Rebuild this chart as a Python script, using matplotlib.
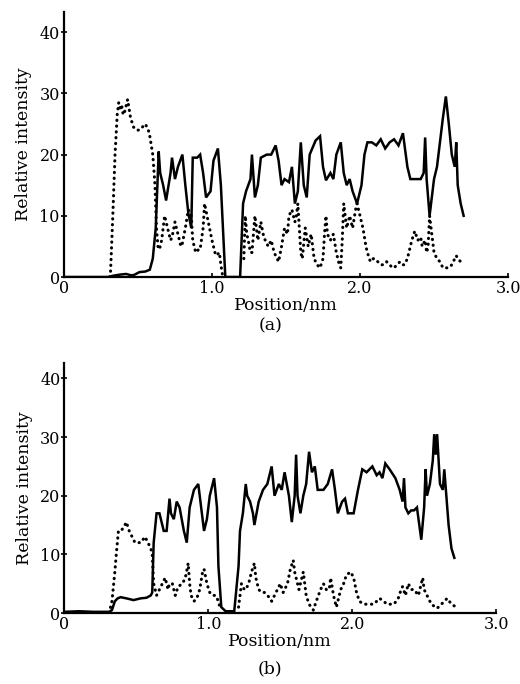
import numpy as np
import matplotlib
matplotlib.use("Agg")
import matplotlib.pyplot as plt

nan = np.nan

# Panel (a): solid curve (x nm, intensity)
a_solid = np.array([
    (0, 0), (0.30, 0), (0.33, 0.2), (0.38, 0.4), (0.42, 0.5), (0.45, 0.3), (0.47, 0.3),
    (0.51, 0.8), (0.55, 0.9), (0.58, 1.2), (0.60, 3), (0.62, 8), (0.64, 20.5), (0.65, 17),
    (0.67, 15), (0.69, 12.5), (0.72, 17), (0.73, 19.5), (0.75, 16), (0.77, 18), (0.80, 20),
    (0.82, 15), (0.84, 10.5), (0.86, 8), (0.87, 19.5), (0.90, 19.5), (0.92, 20), (0.94, 17),
    (0.96, 13), (0.99, 14), (1.01, 19), (1.04, 21), (1.06, 15), (1.08, 5), (1.09, 0),
    (1.19, 0), (1.20, 6), (1.21, 12), (1.23, 14), (1.26, 16), (1.27, 20), (1.29, 13),
    (1.31, 15), (1.33, 19.5), (1.37, 20), (1.40, 20), (1.43, 21.5), (1.45, 19), (1.47, 15),
    (1.49, 16), (1.52, 15.5), (1.54, 18), (1.56, 12), (1.58, 14), (1.60, 22), (1.62, 15),
    (1.64, 13), (1.66, 20), (1.70, 22.3), (1.73, 23), (1.75, 18), (1.77, 15.8), (1.80, 17),
    (1.82, 16), (1.84, 20), (1.87, 22), (1.89, 17), (1.91, 15), (1.93, 16), (1.95, 14),
    (1.98, 12), (2.01, 15), (2.03, 20), (2.05, 22), (2.08, 22), (2.11, 21.5), (2.14, 22.5),
    (2.17, 21), (2.20, 22), (2.23, 22.5), (2.26, 21.5), (2.29, 23.5), (2.32, 18), (2.34, 16),
    (2.37, 16), (2.41, 16), (2.43, 17), (2.44, 22.8), (2.45, 16), (2.47, 10), (2.50, 16),
    (2.52, 18), (2.54, 22), (2.56, 26), (2.58, 29.5), (2.60, 25), (2.62, 20), (2.64, 18),
    (2.65, 22), (2.66, 15), (2.68, 12), (2.70, 10),
])

# Panel (a): dotted curve
a_dotted = np.array([
    (0.31, 0), (0.315, 1), (0.33, 10), (0.345, 20), (0.36, 26.6), (0.37, 28.5), (0.38, 27.5),
    (0.39, 28), (0.40, 26.5), (0.41, 27), (0.43, 29), (0.45, 26), (0.47, 24.5), (0.49, 24),
    (0.51, 24), (0.53, 24.5), (0.55, 25), (0.57, 24), (0.58, 23), (0.60, 20), (0.615, 15),
    (0.625, 8), (0.635, 5), (0.645, 4.5), (0.66, 6), (0.68, 10), (0.70, 8), (0.72, 6),
    (0.73, 6.5), (0.75, 9), (0.77, 7), (0.79, 5), (0.80, 5.5), (0.82, 8), (0.84, 11),
    (0.86, 10), (0.87, 6), (0.89, 4), (0.91, 4.5), (0.92, 4.5), (0.94, 8), (0.95, 12),
    (0.975, 9), (1.00, 6), (1.02, 4), (1.03, 3.5), (1.05, 4), (1.06, 2), (1.07, 0.5),
    (nan, nan),
    (1.215, 3), (1.225, 10), (1.235, 7), (1.245, 6), (1.26, 4), (1.27, 4), (1.28, 7),
    (1.29, 10), (1.30, 8), (1.31, 6), (1.33, 9), (1.35, 6.5), (1.36, 6), (1.38, 5),
    (1.40, 6), (1.42, 4), (1.43, 3.5), (1.45, 2.5), (1.47, 5), (1.49, 8), (1.51, 7),
    (1.52, 10), (1.54, 11), (1.56, 9), (1.57, 10), (1.58, 12), (1.59, 8), (1.60, 4),
    (1.61, 3), (1.63, 8), (1.65, 5), (1.67, 7), (1.69, 3), (1.71, 2), (1.73, 1.5),
    (1.75, 3), (1.76, 7), (1.77, 10), (1.78, 7), (1.80, 6), (1.82, 7), (1.84, 4),
    (1.86, 2), (1.87, 1.5), (1.88, 6), (1.89, 12), (1.91, 8), (1.93, 10), (1.95, 8),
    (1.97, 11), (1.98, 12), (2.00, 10), (2.02, 8), (2.04, 5), (2.05, 4), (2.07, 2.5),
    (2.09, 3), (2.10, 3), (2.12, 2.5), (2.14, 2), (2.16, 2), (2.18, 2.5), (2.20, 2),
    (2.22, 1.5), (2.23, 1.5), (2.25, 2), (2.27, 2.5), (2.29, 2), (2.30, 2), (2.32, 3),
    (2.33, 4), (2.35, 6), (2.37, 7.5), (2.39, 6), (2.41, 6.5), (2.42, 5), (2.44, 6),
    (2.45, 4), (2.46, 5), (2.47, 10), (2.48, 8), (2.50, 4), (2.52, 3), (2.54, 2.5),
    (2.56, 1.5), (2.58, 1.5), (2.60, 1.5), (2.62, 2), (2.63, 2.5), (2.65, 3.5), (2.66, 3),
    (2.68, 2.5), (2.70, 2),
])

# Panel (b): solid curve
b_solid = np.array([
    (0, 0.2), (0.10, 0.3), (0.20, 0.2), (0.31, 0.2), (0.33, 0.5), (0.35, 2), (0.37, 2.5),
    (0.39, 2.7), (0.43, 2.5), (0.48, 2.2), (0.53, 2.5), (0.57, 2.6), (0.60, 3), (0.61, 3.5),
    (0.62, 12), (0.64, 17), (0.66, 17), (0.67, 16), (0.69, 14), (0.71, 14), (0.73, 19.5),
    (0.74, 17), (0.76, 16), (0.78, 19), (0.80, 18), (0.83, 14), (0.85, 12), (0.87, 18),
    (0.90, 21), (0.93, 22), (0.95, 18), (0.97, 14), (0.99, 16), (1.01, 20), (1.04, 23),
    (1.06, 18), (1.07, 8), (1.09, 1), (1.12, 0.3), (1.18, 0.3), (1.21, 8), (1.22, 14),
    (1.24, 17), (1.26, 22), (1.27, 20), (1.29, 19), (1.31, 17), (1.32, 15), (1.35, 19),
    (1.38, 21), (1.41, 22), (1.44, 25), (1.46, 20), (1.49, 22), (1.51, 21), (1.53, 24),
    (1.56, 20), (1.58, 15.5), (1.60, 20), (1.61, 27), (1.62, 20), (1.64, 17), (1.66, 20),
    (1.68, 22), (1.70, 27.5), (1.72, 24), (1.74, 25), (1.76, 21), (1.78, 21), (1.80, 21),
    (1.83, 22), (1.86, 24.5), (1.88, 21), (1.90, 17), (1.93, 19), (1.95, 19.5), (1.97, 17),
    (2.01, 17), (2.04, 21), (2.07, 24.5), (2.10, 24), (2.12, 24.5), (2.14, 25), (2.17, 23.5),
    (2.19, 24), (2.21, 23), (2.23, 25.5), (2.26, 24.5), (2.30, 23), (2.33, 21), (2.35, 19),
    (2.36, 23), (2.37, 18), (2.39, 17), (2.41, 17.5), (2.43, 17.5), (2.45, 18), (2.48, 12.5),
    (2.50, 18), (2.51, 24.5), (2.52, 20), (2.54, 22), (2.56, 26), (2.57, 30.5), (2.58, 27),
    (2.59, 30.5), (2.61, 22), (2.63, 21), (2.64, 24.5), (2.67, 15), (2.69, 11), (2.71, 9.4),
])

# Panel (b): dotted curve
b_dotted = np.array([
    (0.31, 0), (0.33, 2), (0.35, 7), (0.36, 10), (0.375, 14), (0.39, 14), (0.41, 14.5),
    (0.43, 15.5), (0.45, 14), (0.47, 13), (0.49, 12), (0.51, 12), (0.53, 12), (0.56, 13),
    (0.58, 12), (0.60, 11), (0.61, 10), (0.62, 5), (0.64, 3), (0.66, 4), (0.68, 5),
    (0.70, 6), (0.72, 4), (0.73, 5), (0.75, 5), (0.77, 3), (0.79, 4.5), (0.82, 5),
    (0.84, 6), (0.86, 8.5), (0.87, 5), (0.88, 3), (0.90, 2), (0.92, 2.5), (0.94, 4),
    (0.96, 7), (0.97, 7.5), (0.99, 5), (1.01, 3.5), (1.03, 3), (1.05, 3), (1.07, 2),
    (1.08, 1),
    (nan, nan),
    (1.21, 1), (1.22, 3), (1.23, 5), (1.25, 4), (1.26, 4), (1.28, 5), (1.30, 7),
    (1.32, 8.5), (1.33, 6), (1.35, 4), (1.37, 3.5), (1.39, 3.5), (1.41, 3), (1.43, 2.5),
    (1.44, 2), (1.46, 3), (1.48, 4), (1.50, 5), (1.52, 3.5), (1.53, 4), (1.55, 5),
    (1.57, 7.5), (1.59, 9), (1.60, 7), (1.61, 6), (1.63, 4), (1.64, 5), (1.66, 7),
    (1.68, 3), (1.70, 1.5), (1.73, 0.5), (1.75, 2), (1.78, 4), (1.80, 5), (1.82, 4),
    (1.84, 4), (1.85, 6), (1.87, 3), (1.89, 1), (1.92, 4), (1.94, 5), (1.96, 6.5),
    (1.99, 7), (2.01, 6), (2.03, 3.5), (2.05, 2), (2.08, 1.5), (2.10, 1.5), (2.13, 1.5),
    (2.15, 1.5), (2.17, 2), (2.19, 2.5), (2.22, 2), (2.24, 1.5), (2.27, 1.5), (2.29, 1.5),
    (2.32, 2.5), (2.34, 4), (2.35, 4.5), (2.37, 3), (2.39, 5), (2.41, 4), (2.43, 4),
    (2.46, 3), (2.49, 6), (2.50, 4), (2.52, 3), (2.55, 1.5), (2.59, 0.8), (2.62, 1.5),
    (2.64, 2), (2.66, 2.5), (2.69, 1.5), (2.71, 1.2),
])

x_ticks = [0, 1.0, 2.0, 3.0]
x_tick_labels = ["0", "1.0", "2.0", "3.0"]
y_ticks = [0, 10, 20, 30, 40]
y_tick_labels = ["0", "10", "20", "30", "40"]
x_label = "Position/nm"
y_label = "Relative intensity"
panel_labels = ["(a)", "(b)"]

plt.rcParams['font.family'] = ['DejaVu Serif']

fig = plt.figure(figsize=(5.2, 6.84), dpi=100)
ax_a = fig.add_axes([0.123, 0.595, 0.854, 0.3875])
ax_b = fig.add_axes([0.124, 0.1038, 0.830, 0.3652])

panels = [
    (ax_a, a_solid, a_dotted, 43.3, 0.524),
    (ax_b, b_solid, b_dotted, 42.6, 0.0220),
]

for (ax, solid, dotted, ytop, lab_y), lab in zip(panels, panel_labels):
    ax.plot(solid[:, 0], solid[:, 1], color='black', lw=1.8, solid_joinstyle='miter')
    ax.plot(dotted[:, 0], dotted[:, 1], color='black', lw=2.2,
            linestyle=(0, (0.1, 1.8)), dash_capstyle='round')
    ax.set_xlim(0, 3.0)
    ax.set_ylim(0, ytop)
    for s in ['top', 'right']:
        ax.spines[s].set_visible(False)
    for s in ['left', 'bottom']:
        ax.spines[s].set_linewidth(1.6)
    ax.set_xticks(x_ticks)
    ax.set_xticklabels(x_tick_labels)
    ax.set_yticks(y_ticks)
    ax.set_yticklabels(y_tick_labels)
    ax.tick_params(axis='x', direction='in', length=3, width=1.2, labelsize=11.5, pad=2)
    ax.tick_params(axis='y', direction='inout', length=4, width=1.2, labelsize=11.5, pad=1)
    ax.set_xlabel(x_label, fontsize=12.5, labelpad=0)
    ax.set_ylabel(y_label, fontsize=12.5, labelpad=5)
    fig.text(0.52, lab_y, lab, fontsize=12.5, ha='center', va='center')

fig.savefig("out.png", dpi=100)
